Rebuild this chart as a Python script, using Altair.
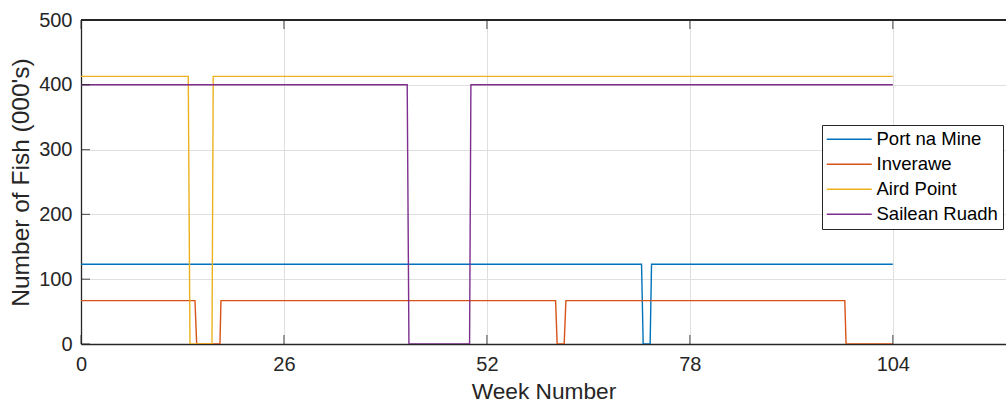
import altair as alt
import pandas as pd

# Stocking breakpoints for each farm site (week number, thousands of fish)
port_weeks = [0, 71.81, 72.02, 72.91, 73.09, 104]
port_fish = [123, 123, 0, 0, 123, 123]

inverawe_weeks = [0, 14.60, 14.82, 17.80, 17.93, 60.80, 61.00, 61.90, 62.12, 97.85, 98.01, 104]
inverawe_fish = [67, 67, 0, 0, 67, 67, 0, 0, 67, 67, 0, 0]

aird_weeks = [0, 13.74, 13.96, 16.78, 16.94, 104]
aird_fish = [413, 413, 0, 0, 413, 413]

sailean_weeks = [0, 41.79, 42.01, 49.78, 49.95, 104]
sailean_fish = [400, 400, 0, 0, 400, 400]

sites = ["Port na Mine", "Inverawe", "Aird Point", "Sailean Ruadh"]
site_colors = ["#0072BD", "#D95319", "#EDB120", "#7E2F8E"]

x_ticks = [0, 26, 52, 78, 104]
y_ticks = [0, 100, 200, 300, 400, 500]
x_max = 118.5

rows = []
for name, weeks, fish in zip(
    sites,
    [port_weeks, inverawe_weeks, aird_weeks, sailean_weeks],
    [port_fish, inverawe_fish, aird_fish, sailean_fish],
):
    for i, (w, f) in enumerate(zip(weeks, fish)):
        rows.append({"site": name, "week": w, "fish": f, "idx": i})
df = pd.DataFrame(rows)

FONT = "Liberation Sans"
INK = "#262626"

x_scale = alt.Scale(domain=[0, x_max], nice=False, zero=False)
y_scale = alt.Scale(domain=[0, 500], nice=False)

lines = alt.Chart(df).mark_line(strokeWidth=1.4, clip=True).encode(
    x=alt.X("week:Q", scale=x_scale,
            axis=alt.Axis(values=x_ticks, title="Week Number", ticks=False,
                          labelPadding=10, titlePadding=6, grid=True,
                          labelFlush=False, titleFontSize=22.7)),
    y=alt.Y("fish:Q", scale=y_scale,
            axis=alt.Axis(values=y_ticks, title="Number of Fish (000's)", ticks=False,
                          labelPadding=9, titlePadding=5, grid=True,
                          labelFlush=False, titleFontSize=24.5)),
    color=alt.Color("site:N",
                    scale=alt.Scale(domain=sites, range=site_colors),
                    legend=alt.Legend(title=None, orient="none", legendX=741, legendY=105,
                                      strokeColor=INK, fillColor="white", padding=5,
                                      symbolType="M-5,0H5", symbolSize=81,
                                      symbolOffset=13,
                                      symbolStrokeWidth=1.5, labelFontSize=18.5,
                                      labelFont=FONT, labelColor="black",
                                      labelOffset=18, rowPadding=6, cornerRadius=0)),
    order="idx:Q",
)

xt_df = pd.DataFrame({"t": x_ticks})
yt_df = pd.DataFrame({"t": y_ticks})

# Box outline on top (left and bottom come from the axis domains)
top_rule = alt.Chart(xt_df).mark_rule(color=INK, strokeWidth=1.3).encode(
    y=alt.datum(500, scale=y_scale)
)

# Inward-pointing tick marks on bottom, top and left edges
bottom_ticks = alt.Chart(xt_df).mark_tick(orient="vertical", size=9, thickness=1.2,
                                          color=INK, yOffset=-4.5).encode(
    x=alt.X("t:Q", scale=x_scale), y=alt.datum(0, scale=y_scale)
)
top_ticks = alt.Chart(xt_df).mark_tick(orient="vertical", size=9, thickness=1.2,
                                       color=INK, yOffset=4.5).encode(
    x=alt.X("t:Q", scale=x_scale), y=alt.datum(500, scale=y_scale)
)
left_ticks = alt.Chart(yt_df).mark_tick(orient="horizontal", size=9, thickness=1.2,
                                        color=INK, xOffset=4.5).encode(
    y=alt.Y("t:Q", scale=y_scale), x=alt.datum(0, scale=x_scale)
)

chart = alt.layer(lines, top_rule, bottom_ticks, top_ticks, left_ticks).properties(
    width=925,
    height=324,
    autosize=alt.AutoSizeParams(type="none"),
    padding={"left": 81, "top": 20, "right": 0, "bottom": 59},
    background="white",
).configure_view(stroke=None).configure_axis(
    domainColor=INK, domainWidth=1.3, gridColor="#dfdfdf", gridWidth=1,
    labelFont=FONT, labelFontSize=20, labelColor=INK,
    titleFont=FONT, titleColor=INK, titleFontWeight="normal",
)

chart.save("out.html", embed_options={"renderer": "svg", "actions": False})
